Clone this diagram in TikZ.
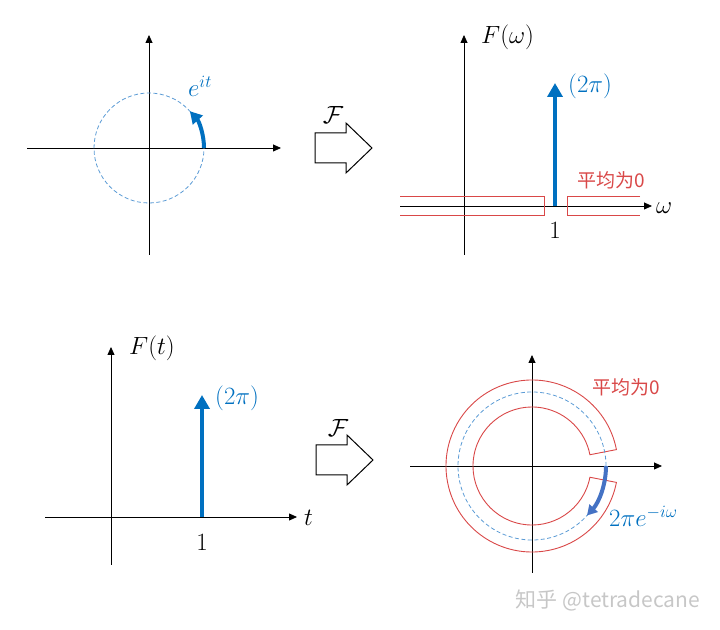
\documentclass[tikz,border=0pt]{standalone}
\usepackage{amsmath,amssymb}
\usepackage{fontspec}
\newfontfamily\cjk{Noto Sans CJK SC}
\usetikzlibrary{arrows.meta,calc,positioning}
\definecolor{offblue}{HTML}{0070C0}
\definecolor{arcblue}{HTML}{4472C4}
\definecolor{dashblue}{HTML}{5B9BD5}
\definecolor{avgred}{HTML}{D94848}

\begin{document}
\begin{tikzpicture}[x=1pt,y=1pt,>={Triangle[length=8pt,width=7pt]},
  font=\fontsize{23}{26}\selectfont,
  axis/.style={->,line width=0.8pt},
  pulse/.style={-{Triangle[length=14pt,width=15pt]},line width=4.5pt,offblue},
  ring/.style={avgred,line width=0.9pt},
  unitc/.style={dashblue,line width=0.8pt,dash pattern=on 4pt off 2.5pt},
  hollow/.style={draw,line width=1pt,fill=white,line join=miter},
  lbl/.style={inner sep=0pt},
  avg/.style={inner sep=0pt,text=avgred,font=\fontsize{19}{22}\cjk}]
\useasboundingbox (0,0) rectangle (720,629);
% top left: e^{it}
\coordinate (O1) at (149,481);
\coordinate (X1a) at (27,481);  \coordinate (X1b) at (281,481);
\coordinate (Y1a) at (149,374); \coordinate (Y1b) at (149,594);
\draw[axis] (X1a) -- (X1b);
\draw[axis] (Y1a) -- (Y1b);
\draw[unitc] (O1) circle (55);
\coordinate (S1) at (204,481);
\draw[-{Triangle[length=12pt,width=13pt]},line width=4pt,offblue] (S1) arc[start angle=0,end angle=42,radius=55];
\node[lbl,text=offblue,anchor=west] (eit) at (188,543) {$e^{it}$};
% top right: F(omega)
\coordinate (O2) at (464,423);
\coordinate (X2a) at (400,423); \coordinate (X2b) at (652,423);
\coordinate (Y2a) at (464,374); \coordinate (Y2b) at (464,594);
\draw[axis] (X2a) -- (X2b);
\draw[axis] (Y2a) -- (Y2b);
\node[lbl,anchor=west] (wlab) at (656,421) {$\omega$};
\node[lbl,anchor=west] (Fw) at (481,592) {$F(\omega)$};
\draw[ring] (400,433) -- (544,433) -- (544,414) -- (400,414);
\draw[ring] (640,433) -- (567,433) -- (567,414) -- (640,414);
\coordinate (P2a) at (555,423); \coordinate (P2b) at (555,546);
\draw[pulse] (P2a) -- (P2b);
\node[lbl,text=offblue,anchor=west] (h2) at (568,543) {$(2\pi)$};
\node[lbl] (one2) at (555,399) {$1$};
\node[avg] (avg2) at (611,449) {平均为0};
% bottom left: F(t)
\coordinate (O3) at (111,112);
\coordinate (X3a) at (45,112);  \coordinate (X3b) at (297,112);
\coordinate (Y3a) at (111,64);  \coordinate (Y3b) at (111,282);
\draw[axis] (X3a) -- (X3b);
\draw[axis] (Y3a) -- (Y3b);
\node[lbl,anchor=west] (tlab) at (304,111) {$t$};
\node[lbl,anchor=west] (Ft) at (129,281) {$F(t)$};
\coordinate (P3a) at (202,112); \coordinate (P3b) at (202,234);
\draw[pulse] (P3a) -- (P3b);
\node[lbl,text=offblue,anchor=west] (h3) at (215,231) {$(2\pi)$};
\node[lbl] (one3) at (202,87) {$1$};
% bottom right: 2pi e^{-i omega}
\coordinate (O4) at (532,163);
\coordinate (X4a) at (410,163); \coordinate (X4b) at (662,163);
\coordinate (Y4a) at (532,56);  \coordinate (Y4b) at (532,274);
\draw[axis] (X4a) -- (X4b);
\draw[axis] (Y4a) -- (Y4b);
\draw[ring] ($(O4)+(11:86)$) arc[start angle=11,end angle=349,radius=86]
  -- ($(O4)+(349:59)$) arc[start angle=349,end angle=11,radius=59] -- cycle;
\draw[unitc] (O4) circle (74);
\coordinate (S4) at (606,163);
\draw[-{Triangle[length=10pt,width=11pt]},line width=4pt,arcblue] (S4) arc[start angle=0,end angle=-42,radius=74];
\node[lbl,text=offblue,anchor=west] (emw) at (609,113) {$2\pi e^{-i\omega}$};
\node[avg] (avg4) at (626,242) {平均为0};
% transform arrows
\coordinate (T1) at (372,481);
\coordinate (T2) at (373,169);
\foreach \t in {T1,T2}{
  \draw[hollow] (\t) -- ++(-26,25) -- ++(0,-10) -- ++(-31,0) -- ++(0,-30) -- ++(31,0) -- ++(0,-10) -- cycle;
}
\node[lbl] (F1) at (333,514) {$\mathcal{F}$};
\node[lbl] (F2) at (338,201) {$\mathcal{F}$};
% watermark
\node[inner sep=0pt,text=black!22,font=\fontsize{21}{23}\cjk] (wm) at (608,29) {知乎 @tetradecane};
\end{tikzpicture}
\end{document}
